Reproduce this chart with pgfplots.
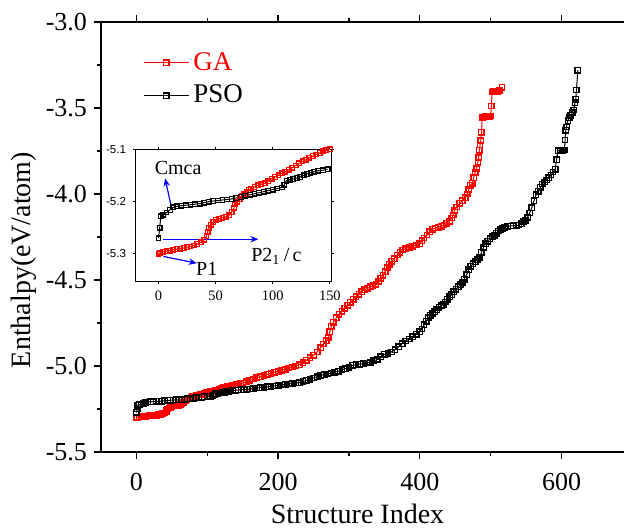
\documentclass[border=0pt]{standalone}
\usepackage{fontspec}
\setmainfont{Liberation Serif}
\newfontfamily\arialfont{Liberation Sans}
\usepackage{pgfplots}
\pgfplotsset{compat=1.18}
\usepackage{pgfplotstable}
\usetikzlibrary{arrows.meta}

\pgfplotstableread{
x y
0 -5.300
1 -5.298
4 -5.296
7 -5.295
10 -5.294
13 -5.292
16 -5.291
19 -5.290
22 -5.289
25 -5.287
28 -5.286
31 -5.284
34 -5.281
37 -5.278
40 -5.273
42 -5.266
43 -5.258
44 -5.250
46 -5.244
48 -5.239
50 -5.235
53 -5.233
56 -5.231
59 -5.229
62 -5.226
64 -5.220
66 -5.212
67 -5.205
69 -5.200
71 -5.195
73 -5.190
75 -5.186
77 -5.182
79 -5.178
81 -5.175
84 -5.172
87 -5.169
90 -5.167
93 -5.165
96 -5.161
99 -5.156
102 -5.153
105 -5.150
108 -5.146
111 -5.143
114 -5.139
117 -5.135
120 -5.131
123 -5.127
126 -5.123
129 -5.120
132 -5.116
135 -5.113
138 -5.110
141 -5.107
144 -5.104
147 -5.102
150 -5.100
155 -5.092
160 -5.083
165 -5.075
170 -5.068
175 -5.062
180 -5.055
185 -5.048
190 -5.042
195 -5.036
200 -5.030
205 -5.024
210 -5.018
215 -5.012
220 -5.006
225 -5.000
230 -4.992
235 -4.980
240 -4.966
245 -4.952
250 -4.938
255 -4.918
260 -4.894
264 -4.872
268 -4.852
271 -4.835
273 -4.800
275 -4.770
278 -4.745
282 -4.720
286 -4.700
290 -4.682
294 -4.664
298 -4.648
302 -4.630
306 -4.612
310 -4.597
314 -4.583
318 -4.568
322 -4.557
326 -4.548
330 -4.540
334 -4.533
338 -4.524
342 -4.508
345 -4.490
348 -4.472
351 -4.452
354 -4.428
357 -4.408
360 -4.392
364 -4.375
368 -4.355
372 -4.340
376 -4.326
380 -4.317
385 -4.310
390 -4.303
395 -4.297
400 -4.290
403 -4.272
406 -4.256
410 -4.238
414 -4.220
418 -4.205
422 -4.198
426 -4.193
430 -4.188
434 -4.180
438 -4.170
442 -4.158
445 -4.140
447 -4.122
449 -4.095
452 -4.075
456 -4.055
460 -4.038
464 -4.022
467 -4.000
469 -3.975
471 -3.950
474 -3.938
476 -3.905
478 -3.875
480 -3.852
482 -3.815
483 -3.790
484 -3.745
485 -3.715
486 -3.690
487 -3.642
488 -3.553
490 -3.552
492 -3.551
494 -3.550
496 -3.549
498 -3.548
500 -3.547
501 -3.488
502 -3.407
504 -3.406
506 -3.405
508 -3.404
510 -3.403
512 -3.400
516 -3.380
}\gadata

\pgfplotstableread{
x y
0 -5.270
1 -5.250
2 -5.228
4 -5.225
7 -5.221
10 -5.216
13 -5.211
16 -5.209
20 -5.208
24 -5.207
28 -5.206
32 -5.205
36 -5.204
40 -5.202
44 -5.200
48 -5.199
52 -5.198
56 -5.197
60 -5.196
64 -5.195
68 -5.193
72 -5.191
76 -5.189
80 -5.187
84 -5.185
88 -5.183
92 -5.181
96 -5.179
100 -5.177
104 -5.175
108 -5.173
110 -5.168
112 -5.160
115 -5.158
118 -5.157
121 -5.155
124 -5.153
127 -5.150
130 -5.147
133 -5.145
136 -5.143
140 -5.141
144 -5.140
148 -5.138
152 -5.137
156 -5.136
160 -5.134
165 -5.131
170 -5.128
175 -5.126
180 -5.124
185 -5.121
190 -5.118
195 -5.116
200 -5.113
205 -5.110
210 -5.107
215 -5.104
220 -5.101
225 -5.099
230 -5.096
235 -5.090
240 -5.084
245 -5.078
250 -5.070
255 -5.062
260 -5.055
265 -5.050
270 -5.046
275 -5.041
280 -5.036
285 -5.030
290 -5.022
295 -5.015
300 -5.007
305 -4.997
310 -4.992
315 -4.989
320 -4.986
325 -4.983
330 -4.978
335 -4.970
340 -4.962
345 -4.945
350 -4.932
355 -4.925
360 -4.918
365 -4.905
370 -4.888
375 -4.870
380 -4.855
385 -4.843
390 -4.830
395 -4.815
400 -4.800
403 -4.785
406 -4.760
409 -4.740
412 -4.720
415 -4.705
418 -4.694
421 -4.684
424 -4.672
427 -4.658
430 -4.650
433 -4.643
436 -4.628
439 -4.612
442 -4.597
445 -4.585
448 -4.568
451 -4.555
454 -4.540
457 -4.527
460 -4.515
463 -4.495
466 -4.470
469 -4.440
472 -4.420
475 -4.405
478 -4.393
481 -4.382
484 -4.370
487 -4.340
490 -4.310
493 -4.290
496 -4.275
499 -4.260
502 -4.248
505 -4.240
508 -4.228
511 -4.215
514 -4.205
517 -4.200
520 -4.195
524 -4.188
528 -4.186
532 -4.185
536 -4.183
540 -4.180
543 -4.172
546 -4.162
549 -4.152
552 -4.135
555 -4.110
558 -4.080
561 -4.040
564 -4.005
567 -3.985
570 -3.962
573 -3.942
576 -3.930
579 -3.918
582 -3.904
585 -3.890
588 -3.872
591 -3.856
593 -3.800
595 -3.748
598 -3.746
601 -3.745
604 -3.744
605 -3.686
606 -3.630
607 -3.610
609 -3.573
611 -3.557
613 -3.542
615 -3.528
617 -3.512
619 -3.470
620 -3.450
621 -3.395
623 -3.280
}\psodata

\begin{document}
\begin{tikzpicture}
\begin{axis}[
  at={(0pt,0pt)}, anchor=south west,
  scale only axis, width=265.7pt, height=215pt,
  xmin=-50, xmax=700, ymin=-5.5, ymax=-3.0,
  xtick={0,200,400,600}, minor xtick={100,300,500,700},
  ytick={-5.5,-5,-4.5,-4,-3.5,-3},
  minor ytick={-5.25,-4.75,-4.25,-3.75,-3.25},
  tick align=outside, major tick length=3.5pt, minor tick length=2pt,
  axis line style={line width=0.65pt},
  every tick/.style={line width=0.65pt, black},
  /pgf/number format/assume math mode=true,
  xticklabel style={font=\fontsize{13}{15}\selectfont, yshift=-3.5pt},
  yticklabel style={font=\fontsize{13}{15}\selectfont,
    /pgf/number format/.cd, fixed, fixed zerofill, precision=1},
  xlabel={Structure Index},
  ylabel={Enthalpy(eV/atom)},
  xlabel style={font=\fontsize{14}{16}\selectfont, at={(axis description cs:0.4827,-0.1674)}, anchor=base},
  ylabel style={font=\fontsize{14}{16}\selectfont, at={(axis description cs:-0.1458,0.4465)}, anchor=center},
  legend style={draw=none, fill=none, at={(axis description cs:0.079,0.94)}, anchor=north west,
    font=\fontsize{13.5}{16}\selectfont, inner sep=0pt, row sep=2pt, cells={anchor=west}},
  legend image code/.code={\draw[mark repeat=2,mark phase=2,#1] plot coordinates {(0pt,0pt) (11.25pt,0pt) (22.5pt,0pt)};},
]
\addplot[red, line width=0.5pt, mark=square, mark size=1.35pt, mark options={line width=0.7pt}] table[x=x,y=y]{\gadata};
\addlegendentry{\color{red}GA}
\addplot[black, line width=0.5pt, mark=square, mark size=1.35pt, mark options={line width=0.7pt}] table[x=x,y=y]{\psodata};
\addlegendentry{PSO}
\end{axis}

\begin{axis}[
  at={(17.35pt,85.5pt)}, anchor=south west,
  scale only axis, width=97.65pt, height=65.85pt,
  xmin=-20, xmax=151, ymin=-5.352, ymax=-5.1,
  xtick={0,50,100,150}, ytick={-5.3,-5.2,-5.1},
  tick align=outside, major tick length=1.3pt,
  axis line style={line width=0.5pt},
  every tick/.style={line width=0.5pt, black},
  axis background/.style={fill=white},
  /pgf/number format/assume math mode=true,
  xticklabel style={font=\fontsize{7.2}{8}\selectfont},
  yticklabel style={font=\arialfont\fontsize{5.8}{7}\selectfont,
    /pgf/number format/.cd, fixed, fixed zerofill, precision=1},
]
\addplot[red, line width=0.5pt, mark=square, mark size=1.15pt, mark options={line width=0.65pt}, restrict x to domain=0:151] table[x=x,y=y]{\gadata};
\addplot[black, line width=0.5pt, mark=square, mark size=1.15pt, mark options={line width=0.65pt}, restrict x to domain=0:151] table[x=x,y=y]{\psodata};
\draw[blue, line width=0.6pt, -{Stealth[length=4pt,width=3.2pt]}] (axis cs:11.8,-5.216) -- (axis cs:5.7,-5.1555);
\draw[blue, line width=0.6pt, -{Stealth[length=4pt,width=3.2pt]}] (axis cs:4.2,-5.272) -- (axis cs:87.4,-5.272);
\draw[blue, line width=0.6pt, -{Stealth[length=4pt,width=3.2pt]}] (axis cs:4.2,-5.305) -- (axis cs:33.5,-5.318);
\node[anchor=base, inner sep=0pt, font=\fontsize{10}{12}\selectfont] at (axis cs:17.1,-5.149) {Cmca};
\node[anchor=base, inner sep=0pt, font=\fontsize{10}{12}\selectfont] at (axis cs:42.2,-5.3415) {P1};
\node[anchor=base, inner sep=0pt, font=\fontsize{10}{12}\selectfont] at (axis cs:103.2,-5.3148) {P2\textsubscript{1}\,/\,c};
\end{axis}
\pgfresetboundingbox
\path[use as bounding box] (-50.5pt,-37.5pt) rectangle (261.5pt,226pt);
\end{tikzpicture}
\end{document}
